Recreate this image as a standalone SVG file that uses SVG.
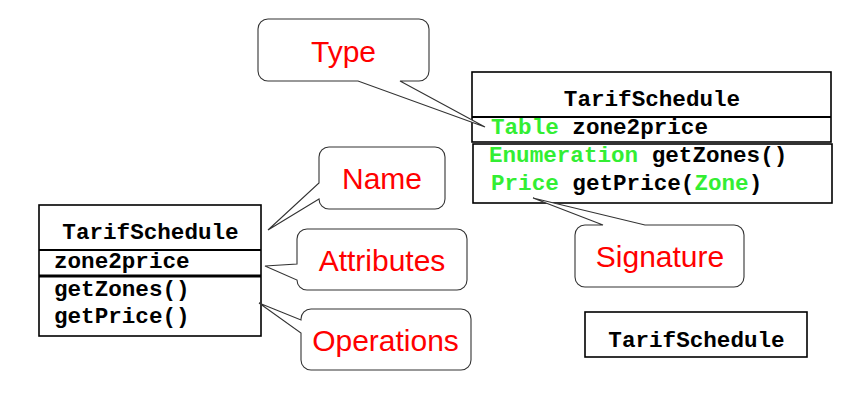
<svg xmlns="http://www.w3.org/2000/svg" width="850" height="405" viewBox="0 0 850 405">
<style>
.box{fill:#fff;stroke:#000;stroke-width:1.6}
.sep{stroke:#000;stroke-width:2}
.mono{font-family:"Liberation Mono","Courier New",monospace;font-weight:bold;font-size:22.6px;fill:#000}
.g{fill:#33ee33}
.call{fill:#fff;stroke:#333;stroke-width:1.1}
.lbl{font-family:"Liberation Sans",Arial,sans-serif;font-size:30px;fill:#ff0000;text-anchor:middle}
</style>
<rect width="850" height="405" fill="#fff"/>
<g id="class-left">
<rect class="box" x="39" y="205" width="222" height="131"/>
<line class="sep" x1="39" y1="250" x2="261" y2="250"/>
<line class="sep" x1="39" y1="276" x2="261" y2="276" style="stroke-width:3"/>
<text class="mono" x="150.5" y="239" text-anchor="middle">TarifSchedule</text>
<text class="mono" x="54" y="268">zone2price</text>
<text class="mono" x="54" y="296">getZones()</text>
<text class="mono" x="54" y="323">getPrice()</text>
</g>
<g id="class-right">
<rect class="box" x="472" y="72" width="359" height="70"/>
<line class="sep" x1="472" y1="117" x2="831" y2="117"/>
<rect class="box" x="473" y="144" width="359" height="59"/>
<text class="mono" x="652" y="106" text-anchor="middle">TarifSchedule</text>
<text class="mono" x="491" y="134"><tspan class="g">Table</tspan> zone2price</text>
<text class="mono" x="489" y="162"><tspan class="g">Enumeration</tspan> getZones()</text>
<text class="mono" x="491" y="190"><tspan class="g">Price</tspan> getPrice(<tspan class="g">Zone</tspan>)</text>
</g>
<g id="class-small">
<rect class="box" x="585" y="312" width="222" height="45"/>
<text class="mono" x="696.5" y="347" text-anchor="middle">TarifSchedule</text>
</g>
<g id="connectors">
<g id="callout-type">
<path class="call" d="M268,19 H419 A10,10 0 0 1 429,29 V71 A10,10 0 0 1 419,81 H400 L485,127 L358,81 H268 A10,10 0 0 1 258,71 V29 A10,10 0 0 1 268,19 Z"/>
<text class="lbl" x="343.5" y="62">Type</text>
</g>
<g id="callout-name">
<path class="call" d="M329,147 H435 A10,10 0 0 1 445,157 V199 A10,10 0 0 1 435,209 H329 A10,10 0 0 1 319,199 L268,230 L319,183 V157 A10,10 0 0 1 329,147 Z"/>
<text class="lbl" x="382" y="189">Name</text>
</g>
<g id="callout-attributes">
<path class="call" d="M307,229 H457 A10,10 0 0 1 467,239 V280 A10,10 0 0 1 457,290 H307 A10,10 0 0 1 297,280 L265,266 L297,264 V239 A10,10 0 0 1 307,229 Z"/>
<text class="lbl" x="382" y="271">Attributes</text>
</g>
<g id="callout-operations">
<path class="call" d="M311,309 H461 A10,10 0 0 1 471,319 V360 A10,10 0 0 1 461,370 H311 A10,10 0 0 1 301,360 V333 L259,303 L301,320 V319 A10,10 0 0 1 311,309 Z"/>
<text class="lbl" x="385.5" y="351">Operations</text>
</g>
<g id="callout-signature">
<path class="call" d="M585,225 H603 L533,198 L645,225 H734 A10,10 0 0 1 744,235 V277 A10,10 0 0 1 734,287 H585 A10,10 0 0 1 575,277 V235 A10,10 0 0 1 585,225 Z"/>
<text class="lbl" x="660" y="267">Signature</text>
</g>
</g>
</svg>
